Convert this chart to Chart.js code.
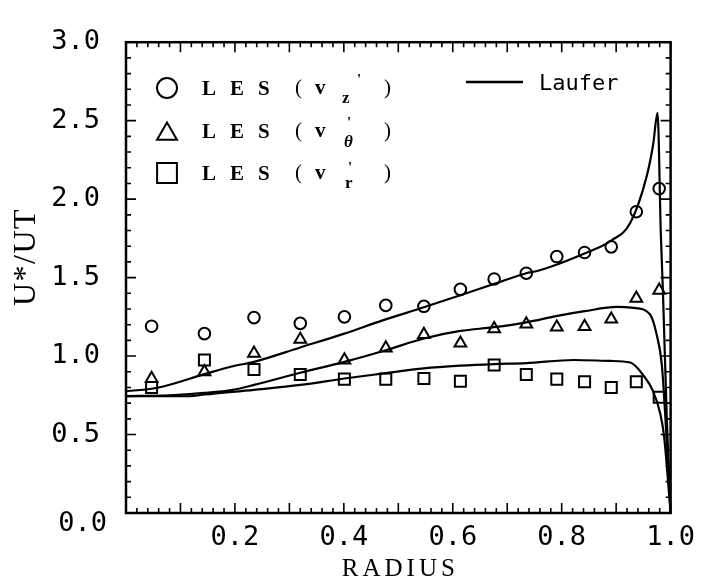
<!DOCTYPE html>
<html>
<head>
<meta charset="utf-8">
<script src="https://cdn.jsdelivr.net/npm/chart.js@4/dist/chart.umd.min.js"></script>
<style>
  html, body { margin: 0; padding: 0; background: #fff; }
  canvas { display: block; }
</style>
</head>
<body>
<canvas id="c" width="704" height="583"></canvas>
<script>
// LES sample radii (shared by the three rms components)
const radius = [0.047, 0.144, 0.235, 0.320, 0.401, 0.477, 0.547, 0.614, 0.676, 0.735, 0.791, 0.842, 0.891, 0.937, 0.979];
const lesVz     = [1.19, 1.143, 1.245, 1.208, 1.25, 1.323, 1.317, 1.425, 1.491, 1.528, 1.634, 1.66, 1.696, 1.92, 2.067];
const lesVtheta = [0.857, 0.90, 1.017, 1.106, 0.975, 1.051, 1.137, 1.082, 1.174, 1.204, 1.184, 1.188, 1.235, 1.368, 1.419];
const lesVr     = [0.80, 0.975, 0.914, 0.883, 0.853, 0.853, 0.857, 0.84, 0.943, 0.882, 0.853, 0.836, 0.80, 0.836, 0.738];

// Laufer measurements (axial, azimuthal, radial)
const lauferZr = [0.0, 0.06, 0.144, 0.196, 0.235, 0.32, 0.401, 0.47, 0.547, 0.614, 0.676, 0.735, 0.755, 0.842, 0.891, 0.926, 0.956, 0.968, 0.976, 0.982, 0.986, 0.993, 1.0];
const lauferZ  = [0.775, 0.80, 0.885, 0.935, 0.963, 1.055, 1.143, 1.226, 1.311, 1.388, 1.46, 1.528, 1.542, 1.654, 1.736, 1.849, 2.145, 2.35, 2.55, 1.78, 1.40, 0.60, 0.0];
const lauferTr = [0.0, 0.08, 0.144, 0.196, 0.235, 0.32, 0.401, 0.477, 0.547, 0.614, 0.676, 0.735, 0.792, 0.842, 0.901, 0.932, 0.962, 0.974, 0.984, 0.99, 1.0];
const lauferT  = [0.745, 0.75, 0.765, 0.785, 0.816, 0.894, 0.963, 1.037, 1.112, 1.16, 1.184, 1.215, 1.256, 1.286, 1.313, 1.307, 1.266, 1.143, 0.939, 0.632, 0.0];
const lauferRr = [0.0, 0.117, 0.144, 0.235, 0.32, 0.401, 0.47, 0.547, 0.614, 0.676, 0.735, 0.822, 0.889, 0.926, 0.95, 0.968, 0.981, 0.988, 1.0];
const lauferR  = [0.744, 0.744, 0.755, 0.785, 0.816, 0.857, 0.888, 0.922, 0.939, 0.949, 0.955, 0.975, 0.969, 0.959, 0.877, 0.775, 0.632, 0.489, 0.0];

// axis ticks
const xTickStep = 0.2, xMinorStep = 0.02, xMajorStep = 0.1;
const yTickStep = 0.5, yMinorStep = 0.1, yMajorStep = 0.5;
const xTitle = 'RADIUS';
const yTitle = 'U*/UT';
const lesLabel = 'LES';
const lesComponents = ['z', 'θ', 'r'];
const lauferLabel = 'Laufer';

const pts = (xs, ys) => xs.map((v, i) => ({ x: v, y: ys[i] }));
const INK = '#000';
const TICK_FONT = { family: 'DejaVu Sans Mono', size: 27 };

// inward ticks on all four sides plus the closed frame
const framePlugin = {
  id: 'frame',
  afterDraw(chart) {
    const { ctx, chartArea: a, scales: { x, y } } = chart;
    ctx.save();
    ctx.strokeStyle = INK;
    ctx.lineWidth = 1.6;
    ctx.beginPath();
    const nx = Math.round((x.max - x.min) / xMinorStep);
    const every = Math.round(xMajorStep / xMinorStep);
    for (let i = 0; i <= nx; i++) {
      const px = x.getPixelForValue(x.min + i * xMinorStep);
      const len = i % every === 0 ? 10 : 5;
      ctx.moveTo(px, a.bottom); ctx.lineTo(px, a.bottom - len);
      ctx.moveTo(px, a.top); ctx.lineTo(px, a.top + len);
    }
    const ny = Math.round((y.max - y.min) / yMinorStep);
    const everyY = Math.round(yMajorStep / yMinorStep);
    for (let i = 0; i <= ny; i++) {
      const py = y.getPixelForValue(y.min + i * yMinorStep);
      const len = i % everyY === 0 ? 10 : 5;
      ctx.moveTo(a.left, py); ctx.lineTo(a.left + len, py);
      ctx.moveTo(a.right, py); ctx.lineTo(a.right - len, py);
    }
    ctx.stroke();
    ctx.lineWidth = 2.5;
    ctx.strokeRect(a.left, a.top, a.right - a.left, a.bottom - a.top);

    // origin label, set a little below the corner
    ctx.fillStyle = INK;
    ctx.font = `${TICK_FONT.size}px "${TICK_FONT.family}"`;
    ctx.textAlign = 'right';
    ctx.textBaseline = 'middle';
    ctx.fillText((0).toFixed(1), a.left - 19, a.bottom + 11);

    // axis titles
    ctx.font = '25px "Liberation Serif"';
    ctx.letterSpacing = '4px';
    ctx.textAlign = 'center';
    ctx.fillText(xTitle, (a.left + a.right) / 2 + 2, 569);

    ctx.save();
    ctx.font = '32px "Liberation Serif"';
    ctx.letterSpacing = '1.5px';
    ctx.translate(27, 257);
    ctx.rotate(-Math.PI / 2);
    ctx.fillText(yTitle, 0, 0);
    ctx.restore();
    ctx.letterSpacing = '0px';

    // legend: LES symbols
    const rows = [
      { y: 88, style: 'circle', r: 10, sub: lesComponents[0], subDy: 15, subX: 342, primeX: 357, primeDy: -4 },
      { y: 131, style: 'triangle', r: 11.5, sub: lesComponents[1], subDy: 16, subX: 344, primeX: 347, primeDy: -4 },
      { y: 173, style: 'rect', r: 14, sub: lesComponents[2], subDy: 15, subX: 345, primeX: 348, primeDy: -1 }
    ];
    ctx.lineWidth = 2;
    rows.forEach(row => {
      ctx.fillStyle = 'rgba(0,0,0,0)';
      Chart.helpers.drawPoint(ctx, { pointStyle: row.style, radius: row.r, rotation: 0, borderWidth: 2 }, 167, row.y + (row.style === 'triangle' ? 3 : 0));
      ctx.fillStyle = INK;
      ctx.textAlign = 'left';
      ctx.textBaseline = 'alphabetic';
      ctx.font = 'bold 21px "Liberation Serif"';
      ctx.letterSpacing = '14px';
      ctx.fillText(lesLabel, 202, row.y + 7);
      ctx.letterSpacing = '0px';
      ctx.font = '21px "Liberation Serif"';
      ctx.fillText('(', 295, row.y + 6);
      ctx.fillText(')', 384, row.y + 6);
      ctx.font = 'bold 21px "Liberation Serif"';
      ctx.fillText('v', 315, row.y + 6);
      ctx.font = (row.sub === 'θ' ? 'italic bold ' : 'bold ') + '17px "Liberation Serif"';
      ctx.fillText(row.sub, row.subX, row.y + row.subDy);
      ctx.font = 'bold 15px "Liberation Serif"';
      ctx.fillText("'", row.primeX, row.y + row.primeDy);
    });

    // legend: Laufer line
    ctx.lineWidth = 2.5;
    ctx.beginPath();
    ctx.moveTo(466, 82); ctx.lineTo(523, 82);
    ctx.stroke();
    ctx.font = '22px "DejaVu Sans Mono"';
    ctx.textAlign = 'left';
    ctx.textBaseline = 'middle';
    ctx.fillText(lauferLabel, 539, 84);
    ctx.restore();
  }
};

const marker = (style, r) => ({
  showLine: false,
  pointStyle: style,
  pointRadius: r,
  pointBorderWidth: 2,
  pointBorderColor: INK,
  pointBackgroundColor: 'rgba(0,0,0,0)'
});
const curve = {
  showLine: true,
  pointRadius: 0,
  borderColor: INK,
  borderWidth: 2.2,
  cubicInterpolationMode: 'monotone'
};

new Chart(document.getElementById('c'), {
  type: 'scatter',
  data: {
    datasets: [
      { label: 'LES (vz\')', data: pts(radius, lesVz), ...marker('circle', 5.8) },
      { label: 'LES (vθ\')', data: pts(radius, lesVtheta), ...marker('triangle', 6.8) },
      { label: 'LES (vr\')', data: pts(radius, lesVr), ...marker('rect', 7.8) },
      { label: 'Laufer z', data: pts(lauferZr, lauferZ), ...curve },
      { label: 'Laufer θ', data: pts(lauferTr, lauferT), ...curve },
      { label: 'Laufer r', data: pts(lauferRr, lauferR), ...curve }
    ]
  },
  options: {
    responsive: false,
    devicePixelRatio: 1,
    animation: false,
    layout: { padding: { left: 0, top: 24, right: 30, bottom: 0 } },
    plugins: { legend: { display: false }, tooltip: { enabled: false } },
    scales: {
      x: {
        type: 'linear', min: 0, max: 1,
        grid: { display: false, drawTicks: false },
        border: { display: false },
        ticks: {
          stepSize: xTickStep, autoSkip: false, maxRotation: 0, padding: 9,
          color: INK, font: TICK_FONT,
          callback: v => (v === 0 ? '' : v.toFixed(1))
        },
        afterFit: s => { s.height = 70; }
      },
      y: {
        type: 'linear', min: 0, max: 3,
        grid: { display: false, drawTicks: false },
        border: { display: false },
        ticks: {
          stepSize: yTickStep, autoSkip: false, padding: 26,
          color: INK, font: TICK_FONT,
          callback: v => (v === 0 ? '' : v.toFixed(1))
        },
        afterFit: s => { s.width = 126; }
      }
    }
  },
  plugins: [framePlugin]
});
</script>
</body>
</html>
